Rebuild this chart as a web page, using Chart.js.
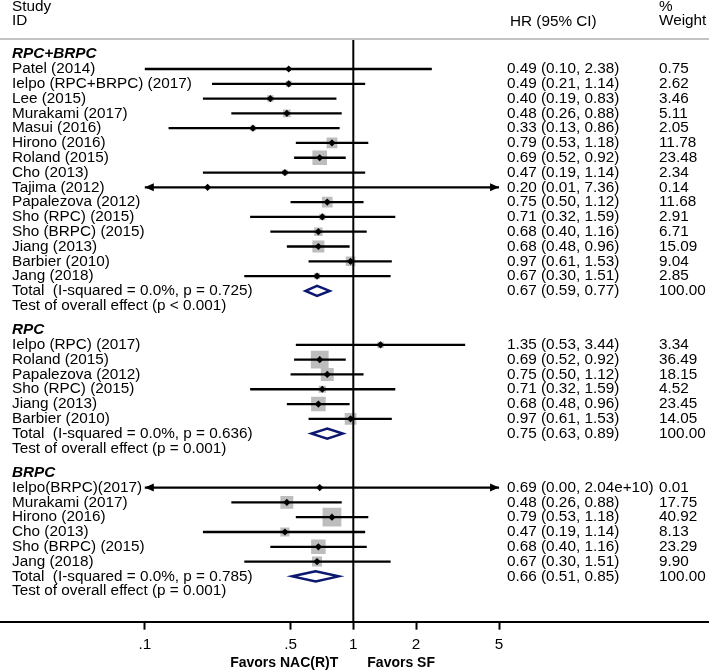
<!DOCTYPE html>
<html>
<head>
<meta charset="utf-8">
<script src="https://cdn.jsdelivr.net/npm/chart.js@4.4.0/dist/chart.umd.min.js"></script>
<style>
  html, body { margin: 0; padding: 0; background: #fff; }
</style>
</head>
<body>
<canvas id="myChart" width="709" height="671"></canvas>
<script>
// subgroup names
const GROUP_NAMES = ['RPC+BRPC', 'RPC', 'BRPC']

// RPC+BRPC studies
const G1_STUDIES = ['Patel (2014)', 'Ielpo (RPC+BRPC) (2017)', 'Lee (2015)', 'Murakami (2017)', 'Masui (2016)',
  'Hirono (2016)', 'Roland (2015)', 'Cho (2013)', 'Tajima (2012)', 'Papalezova (2012)', 'Sho (RPC) (2015)',
  'Sho (BRPC) (2015)', 'Jiang (2013)', 'Barbier (2010)', 'Jang (2018)']
const G1_HR = [0.49, 0.49, 0.40, 0.48, 0.33, 0.79, 0.69, 0.47, 0.20, 0.75, 0.71, 0.68, 0.68, 0.97, 0.67]
const G1_LO = [0.10, 0.21, 0.19, 0.26, 0.13, 0.53, 0.52, 0.19, 0.01, 0.50, 0.32, 0.40, 0.48, 0.61, 0.30]
const G1_HI = [2.38, 1.14, 0.83, 0.88, 0.86, 1.18, 0.92, 1.14, 7.36, 1.12, 1.59, 1.16, 0.96, 1.53, 1.51]
const G1_WEIGHT = [0.75, 2.62, 3.46, 5.11, 2.05, 11.78, 23.48, 2.34, 0.14, 11.68, 2.91, 6.71, 15.09, 9.04, 2.85]

// RPC studies
const G2_STUDIES = ['Ielpo (RPC) (2017)', 'Roland (2015)', 'Papalezova (2012)', 'Sho (RPC) (2015)', 'Jiang (2013)', 'Barbier (2010)']
const G2_HR = [1.35, 0.69, 0.75, 0.71, 0.68, 0.97]
const G2_LO = [0.53, 0.52, 0.50, 0.32, 0.48, 0.61]
const G2_HI = [3.44, 0.92, 1.12, 1.59, 0.96, 1.53]
const G2_WEIGHT = [3.34, 36.49, 18.15, 4.52, 23.45, 14.05]

// BRPC studies
const G3_STUDIES = ['Ielpo(BRPC)(2017)', 'Murakami (2017)', 'Hirono (2016)', 'Cho (2013)', 'Sho (BRPC) (2015)', 'Jang (2018)']
const G3_HR = [0.69, 0.48, 0.79, 0.47, 0.68, 0.67]
const G3_LO = [0.00, 0.26, 0.53, 0.19, 0.40, 0.30]
const G3_HI = [2.04e10, 0.88, 1.18, 1.14, 1.16, 1.51]
const G3_WEIGHT = [0.01, 17.75, 40.92, 8.13, 23.29, 9.90]

// pooled results per subgroup
const TOTAL_HR = [0.67, 0.75, 0.66]
const TOTAL_LO = [0.59, 0.63, 0.51]
const TOTAL_HI = [0.77, 0.89, 0.85]
const I_SQUARED = ['0.0%', '0.0%', '0.0%']
const HET_P = ['0.725', '0.636', '0.785']
const EFFECT_P = ['< 0.001', '= 0.001', '= 0.001']

// axis ticks
const TICK_VALUES = [0.1, 0.5, 1, 2, 5]
const TICK_LABELS = ['.1', '.5', '1', '2', '5']

// layout / style constants
const X_MIN = 0.02021, X_MAX = 50.8
const Y_MIN = -2.027, Y_MAX = 37.36
const CLIP_MIN = TICK_VALUES[0], CLIP_MAX = TICK_VALUES[TICK_VALUES.length - 1]
const GROUP_GAP = 3.65
const DIAMOND_H = 0.34
const FONT = '15.3px "Liberation Sans", Arial, sans-serif'
const NAVY = '#0c1870'
const GREY = '#bdbdbd'

const groups = [
  { studies: G1_STUDIES, hr: G1_HR, lo: G1_LO, hi: G1_HI, w: G1_WEIGHT },
  { studies: G2_STUDIES, hr: G2_HR, lo: G2_LO, hi: G2_HI, w: G2_WEIGHT },
  { studies: G3_STUDIES, hr: G3_HR, lo: G3_LO, hi: G3_HI, w: G3_WEIGHT }
]

function fmt(v) {
  return v >= 1e6 ? v.toExponential(2) : v.toFixed(2)
}

// build the rows (y = row index on the linear y scale)
var studyRows = []
var totalRows = []
var textRows = []
var start = 0
groups.forEach(function (g, gi) {
  textRows.push({ y: start - 1, label: GROUP_NAMES[gi], header: true })
  g.studies.forEach(function (name, i) {
    var r = start + i
    studyRows.push({ y: r, hr: g.hr[i], lo: g.lo[i], hi: g.hi[i], w: g.w[i] })
    textRows.push({ y: r, label: name, ci: fmt(g.hr[i]) + ' (' + fmt(g.lo[i]) + ', ' + fmt(g.hi[i]) + ')', wt: g.w[i].toFixed(2) })
  })
  var t = start + g.studies.length
  totalRows.push({ y: t, hr: TOTAL_HR[gi], lo: TOTAL_LO[gi], hi: TOTAL_HI[gi] })
  textRows.push({ y: t, label: 'Total  (I-squared = ' + I_SQUARED[gi] + ', p = ' + HET_P[gi] + ')',
    ci: fmt(TOTAL_HR[gi]) + ' (' + fmt(TOTAL_LO[gi]) + ', ' + fmt(TOTAL_HI[gi]) + ')', wt: (100).toFixed(2) })
  textRows.push({ y: t + 1, label: 'Test of overall effect (p ' + EFFECT_P[gi] + ')' })
  start = t + GROUP_GAP
})

// chart datasets
var markerData = studyRows.map(function (s) { return { x: s.hr, y: s.y } })
var boxData = studyRows.map(function (s) { return { x: s.hr, y: s.y } })
var boxRadius = studyRows.map(function (s) { return (2.7 * Math.sqrt(s.w) + 1.5) / Math.SQRT2 })
var ciData = []
studyRows.forEach(function (s) {
  ciData.push({ x: Math.max(s.lo, CLIP_MIN), y: s.y })
  ciData.push({ x: Math.min(s.hi, CLIP_MAX), y: s.y })
  ciData.push({ x: null, y: null })
})
var diamondData = []
totalRows.forEach(function (t) {
  diamondData.push({ x: t.lo, y: t.y }, { x: t.hr, y: t.y - DIAMOND_H }, { x: t.hi, y: t.y },
    { x: t.hr, y: t.y + DIAMOND_H }, { x: t.lo, y: t.y }, { x: t.hr, y: t.y - DIAMOND_H }, { x: null, y: null })
})

// arrows for CIs running off the axis, plus all the text columns
const forestPlugin = {
  id: 'forest',
  afterDatasetsDraw: function (chart) {
    var ctx = chart.ctx, xs = chart.scales.x, ys = chart.scales.y
    ctx.save()
    ctx.fillStyle = '#000'
    studyRows.forEach(function (s) {
      var py = ys.getPixelForValue(s.y)
      if (s.lo < CLIP_MIN) {
        var px = xs.getPixelForValue(CLIP_MIN)
        ctx.beginPath(); ctx.moveTo(px, py); ctx.lineTo(px + 9, py - 4); ctx.lineTo(px + 9, py + 4); ctx.closePath(); ctx.fill()
      }
      if (s.hi > CLIP_MAX) {
        var px2 = xs.getPixelForValue(CLIP_MAX)
        ctx.beginPath(); ctx.moveTo(px2, py); ctx.lineTo(px2 - 9, py - 4); ctx.lineTo(px2 - 9, py + 4); ctx.closePath(); ctx.fill()
      }
    })
    ctx.restore()
  },
  afterDraw: function (chart) {
    var ctx = chart.ctx, xs = chart.scales.x, ys = chart.scales.y, area = chart.chartArea
    ctx.save()
    // grey rule under the column headers
    ctx.strokeStyle = '#c4c4c4'
    ctx.lineWidth = 2
    ctx.beginPath(); ctx.moveTo(0, area.top); ctx.lineTo(chart.width, area.top); ctx.stroke()

    ctx.fillStyle = '#000'
    ctx.textBaseline = 'middle'
    ctx.font = FONT
    ctx.fillText('Study', 12, 7)
    ctx.fillText('ID', 12, 21)
    ctx.fillText('HR (95% CI)', 510, 21.5)
    ctx.fillText('%', 659, 7)
    ctx.fillText('Weight', 659, 21)

    textRows.forEach(function (r) {
      var py = ys.getPixelForValue(r.y)
      if (r.header) {
        ctx.font = 'italic bold 15.3px "Liberation Sans", Arial, sans-serif'
        ctx.fillText(r.label, 12, py)
        ctx.font = FONT
        return
      }
      ctx.fillText(r.label, 12, py)
      if (r.ci) ctx.fillText(r.ci, 507, py)
      if (r.wt) ctx.fillText(r.wt, 659, py)
    })

    ctx.font = 'bold 14px "Liberation Sans", Arial, sans-serif'
    var one = xs.getPixelForValue(1)
    ctx.textAlign = 'right'
    ctx.fillText('Favors NAC(R)T', one - 15, 663)
    ctx.textAlign = 'left'
    ctx.fillText('Favors SF', one + 14, 663)
    ctx.restore()
  }
}

var ctx = document.getElementById('myChart').getContext('2d')
var chart = new Chart(ctx, {
  type: 'scatter',
  data: {
    datasets: [
      { // study point estimates
        data: markerData, pointStyle: 'rectRot', pointRadius: 3.6,
        backgroundColor: '#000', borderColor: '#000', borderWidth: 0
      },
      { // confidence intervals
        data: ciData, showLine: true, spanGaps: false, borderColor: '#000', borderWidth: 2.3, pointRadius: 0
      },
      { // line of no effect
        data: [{ x: 1, y: Y_MIN }, { x: 1, y: Y_MAX }], showLine: true, borderColor: '#000', borderWidth: 2, pointRadius: 0
      },
      { // weight boxes
        data: boxData, pointStyle: 'rect', pointRadius: boxRadius,
        backgroundColor: GREY, borderColor: GREY, borderWidth: 0
      },
      { // pooled diamonds
        data: diamondData, showLine: true, spanGaps: false, borderColor: NAVY, borderWidth: 2.5,
        pointRadius: 0, borderJoinStyle: 'miter'
      }
    ]
  },
  options: {
    responsive: false,
    animation: false,
    layout: { autoPadding: false, padding: { top: 39, bottom: 11, left: 0, right: 0 } },
    plugins: { legend: { display: false }, tooltip: { enabled: false } },
    scales: {
      x: {
        type: 'logarithmic',
        min: X_MIN,
        max: X_MAX,
        afterBuildTicks: function (axis) {
          axis.ticks = TICK_VALUES.map(function (v) { return { value: v } })
        },
        afterFit: function (axis) {
          axis.paddingLeft = 0
          axis.paddingRight = 0
        },
        ticks: {
          autoSkip: false,
          maxRotation: 0,
          padding: 6,
          color: '#000',
          font: { family: '"Liberation Sans", Arial, sans-serif', size: 15.3 },
          callback: function (value) {
            var i = TICK_VALUES.indexOf(value)
            return i >= 0 ? TICK_LABELS[i] : ''
          }
        },
        grid: { display: true, drawOnChartArea: false, drawTicks: true, tickLength: 8, tickWidth: 2, tickColor: '#000' },
        border: { display: true, color: '#000', width: 2 }
      },
      y: { type: 'linear', reverse: true, min: Y_MIN, max: Y_MAX, display: false }
    }
  },
  plugins: [forestPlugin]
})
</script>
</body>
</html>
